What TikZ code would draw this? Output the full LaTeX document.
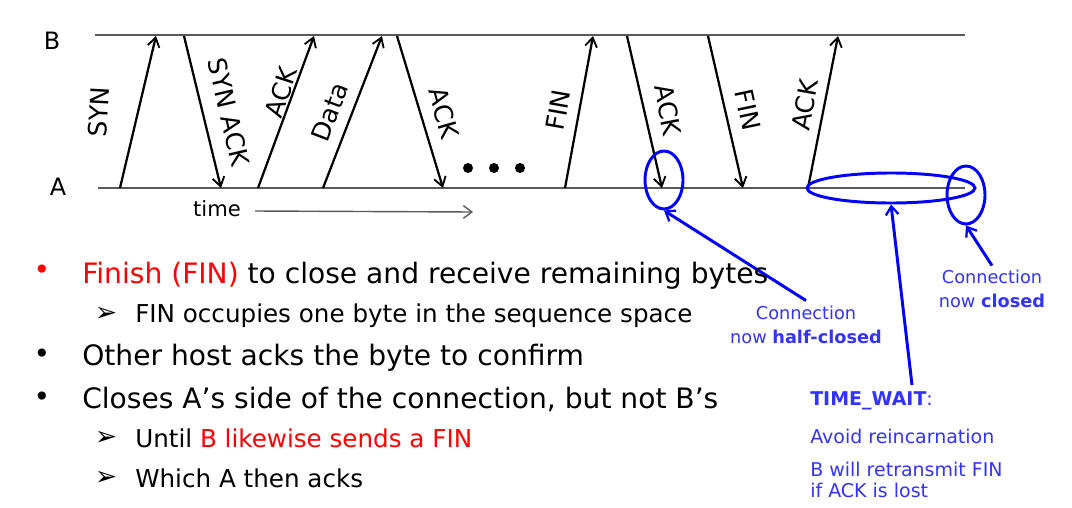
\documentclass[tikz,border=0pt]{standalone}
\usepackage{fontspec}
\setmainfont{DejaVu Sans}
\usetikzlibrary{arrows.meta}
\usetikzlibrary{positioning}
\usetikzlibrary{shapes.geometric}
\newcommand{\hostlinecolor}[0]{black!65}
\newcommand{\notecolor}[0]{blue!80}
\newcommand{\hilitecolor}[0]{red}
\tikzset{
    msg/.style={draw=black, line width=1.6pt, -{Straight Barb[length=6.5pt,width=8.5pt,line width=1.3pt]}},
    msglabel/.style={font=\fontsize{18}{20}\selectfont, inner sep=0pt},
    mark ring/.style={ellipse, draw=blue, line width=2.1pt, inner sep=0pt},
    note arrow/.style={draw=blue, line width=2.1pt, -{Straight Barb[length=6pt,width=9pt,line width=1.6pt]}},
    bulletline/.style={anchor=base west, inner sep=0pt, font=\fontsize{20}{24}\selectfont},
    subline/.style={anchor=base west, inner sep=0pt, font=\fontsize{17.5}{21}\selectfont},
    notetext/.style={anchor=base west, inner sep=0pt, text=\notecolor, font=\fontsize{13.5}{16}\selectfont},
}
\begin{document}
\begin{tikzpicture}[x=0.025cm, y=-0.025cm]
    \useasboundingbox (0,0) rectangle (1072,507);

    % hosts
    \node[font=\fontsize{17}{20}\selectfont, inner sep=0pt] (host_b) at (52,41) {B};
    \node[font=\fontsize{17}{20}\selectfont, inner sep=0pt] (host_a) at (58,187) {A};
    \coordinate (b_start) at (95,35);
    \coordinate (b_end) at (965,35);
    \coordinate (a_start) at (98,188);
    \coordinate (a_end) at (965,188);
    \draw[\hostlinecolor, line width=1.5pt] (b_start) -- (b_end);
    \draw[\hostlinecolor, line width=1.5pt] (a_start) -- (a_end);

    % message end points on A and B
    \coordinate (a1) at (120,188);  \coordinate (b1) at (156,36);
    \coordinate (b2) at (184,36);   \coordinate (a2) at (221,188);
    \coordinate (a3) at (258,188);  \coordinate (b3) at (314,36);
    \coordinate (a4) at (323,188);  \coordinate (b4) at (382,36);
    \coordinate (b5) at (397,36);   \coordinate (a5) at (443,188);
    \coordinate (a6) at (565,188);  \coordinate (b6) at (593,36);
    \coordinate (b7) at (627,36);   \coordinate (a7) at (662,188);
    \coordinate (b8) at (708,36);   \coordinate (a8) at (743,188);
    \coordinate (a9) at (808,188);  \coordinate (b9) at (838,36);

    \draw[msg] (a1) -- (b1);
    \draw[msg] (b2) -- (a2);
    \draw[msg] (a3) -- (b3);
    \draw[msg] (a4) -- (b4);
    \draw[msg] (b5) -- (a5);
    \draw[msg] (a6) -- (b6);
    \draw[msg] (b7) -- (a7);
    \draw[msg] (b8) -- (a8);
    \draw[msg] (a9) -- (b9);

    \node[msglabel, rotate=87] (syn) at (99,112) {SYN};
    \node[msglabel, rotate=-77] (synack) at (229,112) {SYN ACK};
    \node[msglabel, rotate=72] (ack_hs) at (281,92) {ACK};
    \node[msglabel, rotate=69] (data) at (330,112) {Data};
    \node[msglabel, rotate=-74] (ack_data) at (444,113) {ACK};
    \node[msglabel, rotate=80] (fin_a) at (558,110) {FIN};
    \node[msglabel, rotate=-79] (ack_b) at (668,110) {ACK};
    \node[msglabel, rotate=-78] (fin_b) at (748,110) {FIN};
    \node[msglabel, rotate=80] (ack_a) at (805,105) {ACK};

    % more segments
    \fill (468,168) circle (5) node (dot_one) {};
    \fill (494,168) circle (5) node (dot_two) {};
    \fill (520,168) circle (5) node (dot_three) {};

    % time axis
    \node[font=\fontsize{15}{18}\selectfont, inner sep=0pt] (time) at (217,209) {time};
    \coordinate[right=0.35cm of time] (time_tip);
    \coordinate (time_end) at (473,212);
    \draw[\hostlinecolor, line width=1pt, -{Straight Barb[length=6pt,width=9pt]}] (time.east -| time_tip) ++(0,2) -- (time_end);

    % marks
    \node[mark ring, minimum width=0.95cm, minimum height=1.45cm] (ack_ring) at (664,180) {};
    \node[mark ring, minimum width=4.2cm, minimum height=0.75cm] (wait_ring) at (891,188) {};
    \node[mark ring, minimum width=0.95cm, minimum height=1.45cm] (closed_ring) at (966,195) {};

    % notes
    \node[align=center, text=\notecolor, font=\fontsize{12.6}{17.5}\selectfont, inner sep=0pt]
        (half_closed) at (806,325) {Connection\\now \textbf{half-closed}};
    \node[align=center, text=\notecolor, font=\fontsize{12.6}{17.5}\selectfont, inner sep=0pt]
        (now_closed) at (992,289) {Connection\\now \textbf{closed}};
    \node[notetext] (time_wait) at (810,405) {\textbf{TIME\_WAIT}:};
    \node[notetext] (avoid) at (810,443) {Avoid reincarnation};
    \node[notetext] (retransmit) at (810,476) {B will retransmit FIN};
    \node[notetext] (ack_lost) at (810,497) {if ACK is lost};
    \coordinate (time_wait_foot) at (912,385);

    \draw[note arrow] (half_closed.north) ++(0,-5) -- (ack_ring.south);
    \draw[note arrow] (time_wait_foot) -- (wait_ring.south);
    \draw[note arrow] (now_closed.north) ++(0,-4) -- (closed_ring.south);

    % bullets
    \node[font=\fontsize{20}{24}\selectfont, text=\hilitecolor, inner sep=0pt] (dot_fin) at (42,272) {•};
    \node[bulletline] (finish) at (82,283) {\textcolor{\hilitecolor}{Finish (FIN)} to close and receive remaining bytes};
    \node[font=\fontsize{19}{22}\selectfont, inner sep=0pt] (tip_fin) at (106,314) {➢};
    \node[subline] (occupies) at (135,322) {FIN occupies one byte in the sequence space};
    \node[font=\fontsize{20}{24}\selectfont, inner sep=0pt] (dot_other) at (42,356) {•};
    \node[bulletline] (other_host) at (82,365) {Other host acks the byte to confirm};
    \node[font=\fontsize{20}{24}\selectfont, inner sep=0pt] (dot_closes) at (42,399) {•};
    \node[bulletline] (closes) at (82,408) {Closes A’s side of the connection, but not B’s};
    \node[font=\fontsize{19}{22}\selectfont, inner sep=0pt] (tip_until) at (106,438) {➢};
    \node[subline] (until) at (135,447) {Until \textcolor{\hilitecolor}{B likewise sends a FIN}};
    \node[font=\fontsize{19}{22}\selectfont, inner sep=0pt] (tip_which) at (106,478) {➢};
    \node[subline] (which) at (135,487) {Which A then acks};
\end{tikzpicture}
\end{document}
